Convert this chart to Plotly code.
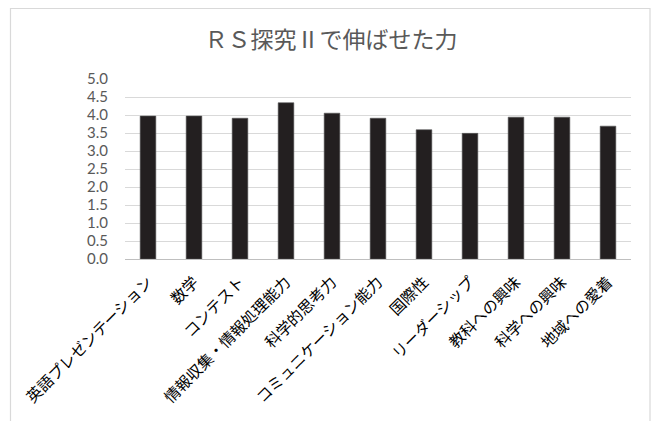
import plotly.graph_objects as go

# Survey categories and average scores
categories = [
    "英語プレゼンテーション", "数学", "コンテスト", "情報収集・情報処理能力",
    "科学的思考力", "コミュニケーション能力", "国際性", "リーダーシップ",
    "教科への興味", "科学への興味", "地域への愛着",
]
scores = [3.97, 3.97, 3.91, 4.34, 4.05, 3.91, 3.59, 3.49, 3.94, 3.94, 3.69]
y_ticks = [0.0, 0.5, 1.0, 1.5, 2.0, 2.5, 3.0, 3.5, 4.0, 4.5, 5.0]
title_text = "ＲＳ探究Ⅱで伸ばせた力"

W, H = 656, 421
ML, MR, MT, MB = 125, 25, 79, 162
pw, ph = W - ML - MR, H - MT - MB


def px_to_paper_x(px):
    return (px - ML) / pw


def px_to_paper_y(py):
    return (H - MB - py) / ph


fig = go.Figure(
    go.Bar(
        x=categories,
        y=scores,
        marker=dict(color="#231f20", line=dict(color="#555555", width=0.6)),
    )
)

fig.update_layout(
    width=W,
    height=H,
    margin=dict(l=ML, r=MR, t=MT, b=MB),
    paper_bgcolor="white",
    plot_bgcolor="white",
    bargap=0.66,
    showlegend=False,
    title=dict(
        text=title_text,
        x=331 / W,
        xanchor="center",
        xref="container",
        y=1 - 40 / H,
        yanchor="middle",
        yref="container",
        font=dict(family="Noto Sans CJK JP", size=23, color="#595959"),
    ),
    shapes=[
        dict(
            type="rect",
            xref="paper",
            yref="paper",
            x0=px_to_paper_x(10.5),
            x1=px_to_paper_x(650),
            y0=px_to_paper_y(430),
            y1=px_to_paper_y(8.5),
            line=dict(color="#d9d9d9", width=1.2),
            fillcolor="rgba(0,0,0,0)",
            layer="below",
        )
    ],
)

fig.update_yaxes(
    range=[0, 5],
    tickvals=y_ticks,
    ticktext=[f"{v:.1f}" for v in y_ticks],
    showgrid=True,
    gridcolor="#d9d9d9",
    gridwidth=1,
    zeroline=False,
    showline=False,
    ticks="",
    ticklabelstandoff=16,
    tickfont=dict(family="Lato", size=15, color="#595959"),
)

fig.update_xaxes(
    tickangle=-45,
    showline=True,
    linecolor="#bfbfbf",
    linewidth=1,
    ticks="",
    ticklabelstandoff=7,
    tickfont=dict(family="Noto Sans CJK JP", size=15.5, color="#000000"),
)

fig.write_html("out.html")
